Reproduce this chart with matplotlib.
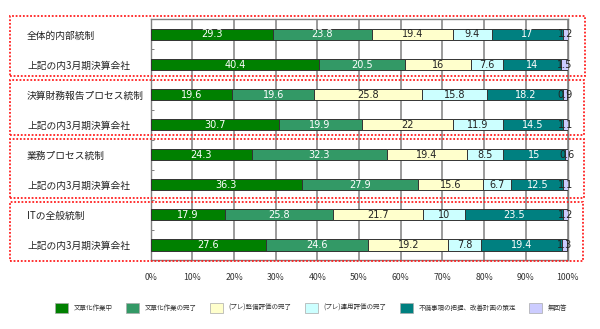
import matplotlib
matplotlib.use("Agg")
import matplotlib.pyplot as plt
from matplotlib.patches import Rectangle, Patch
import numpy as np

plt.rcParams['font.family'] = ['Noto Sans CJK JP', 'DejaVu Sans']

categories = ["全体的内部統制", "上記の内3月期決算会社",
              "決算財務報告プロセス統制", "上記の内3月期決算会社",
              "業務プロセス統制", "上記の内3月期決算会社",
              "ITの全般統制", "上記の内3月期決算会社"]
series_names = ["文章化作業中", "文章化作業の完了", "(プレ)整備評価の完了",
                "(プレ)運用評価の完了", "不備事項の把握、改善計画の策定", "無回答"]
s_doc_wip = [29.3, 40.4, 19.6, 30.7, 24.3, 36.3, 17.9, 27.6]
s_doc_done = [23.8, 20.5, 19.6, 19.9, 32.3, 27.9, 25.8, 24.6]
s_design = [19.4, 16, 25.8, 22, 19.4, 15.6, 21.7, 19.2]
s_operate = [9.4, 7.6, 15.8, 11.9, 8.5, 6.7, 10, 7.8]
s_deficiency = [17, 14, 18.2, 14.5, 15, 12.5, 23.5, 19.4]
s_noanswer = [1.2, 1.5, 0.9, 1.1, 0.6, 1.1, 1.2, 1.3]
xtick_labels = ["0%", "10%", "20%", "30%", "40%", "50%", "60%", "70%", "80%", "90%", "100%"]

series = [s_doc_wip, s_doc_done, s_design, s_operate, s_deficiency, s_noanswer]
colors = ["#008000", "#339966", "#FFFFCC", "#CCFFFF", "#008080", "#CCCCFF"]
text_colors = ["white", "white", "#222222", "#222222", "white", "#222222"]

W, H = 600, 329
fig = plt.figure(figsize=(6, 3.29), dpi=100)
ax = fig.add_axes([150.7 / W, (H - 260) / H, 416.8 / W, (260 - 19.4) / H])

y = np.arange(len(categories))
left = np.zeros(len(categories))
for vals, c, tc, name in zip(series, colors, text_colors, series_names):
    vals = np.array(vals, dtype=float)
    ax.barh(y, vals, left=left, height=0.37, color=c, edgecolor="#333333",
            linewidth=0.7, zorder=3, label=name)
    for i, v in enumerate(vals):
        ax.text(left[i] + v / 2, y[i], f"{v:g}", ha="center", va="center",
                color=tc, fontsize=7, family="DejaVu Sans", zorder=4)
    left += vals

ax.set_xlim(0, 100)
ax.set_ylim(len(categories) - 0.5, -0.5)
ax.set_xticks(np.arange(0, 101, 10))
ax.set_xticklabels(xtick_labels, fontsize=6.3, color="#333333")
ax.tick_params(axis="x", length=0, pad=9)
ax.grid(axis="x", color="#808080", linewidth=1.1, zorder=0)
ax.set_yticks(y)
ax.set_yticklabels(categories, fontsize=7, color="#222222")
for lab in ax.get_yticklabels():
    lab.set_ha("left")
ax.tick_params(axis="y", which="major", length=0, pad=89)
ax.set_yticks(np.arange(-0.5, len(categories), 1), minor=True)
ax.tick_params(axis="y", which="minor", length=2.5, direction="in", color="#666666")
for s in ax.spines.values():
    s.set_color("#808080")
    s.set_linewidth(1.0)

# red dotted group frames (pixel coordinates from top)
boxes = [(10, 15.7, 585, 76), (10, 80, 584, 134.5), (10, 139, 584, 198.3), (10, 201.7, 583, 261)]
for x0, y0, x1, y1 in boxes:
    fig.add_artist(Rectangle((x0 / W, (H - y1) / H), (x1 - x0) / W, (y1 - y0) / H,
                             transform=fig.transFigure, fill=False, edgecolor="#FF2020",
                             linestyle=(0, (1, 1)), linewidth=1.3, clip_on=False))

handles = [Patch(facecolor=c, edgecolor="#aaaaaa", linewidth=0.5, label=n)
           for c, n in zip(colors, series_names)]
leg = fig.legend(handles=handles, loc="center", bbox_to_anchor=(311 / W, (H - 308) / H),
                 ncol=6, frameon=False, fontsize=4.7, handlelength=2.0, handleheight=2.0,
                 handletextpad=0.9, columnspacing=2.0, borderpad=0)
for t in leg.get_texts():
    t.set_color("#333333")

fig.savefig("out.png", dpi=100, facecolor="white")
